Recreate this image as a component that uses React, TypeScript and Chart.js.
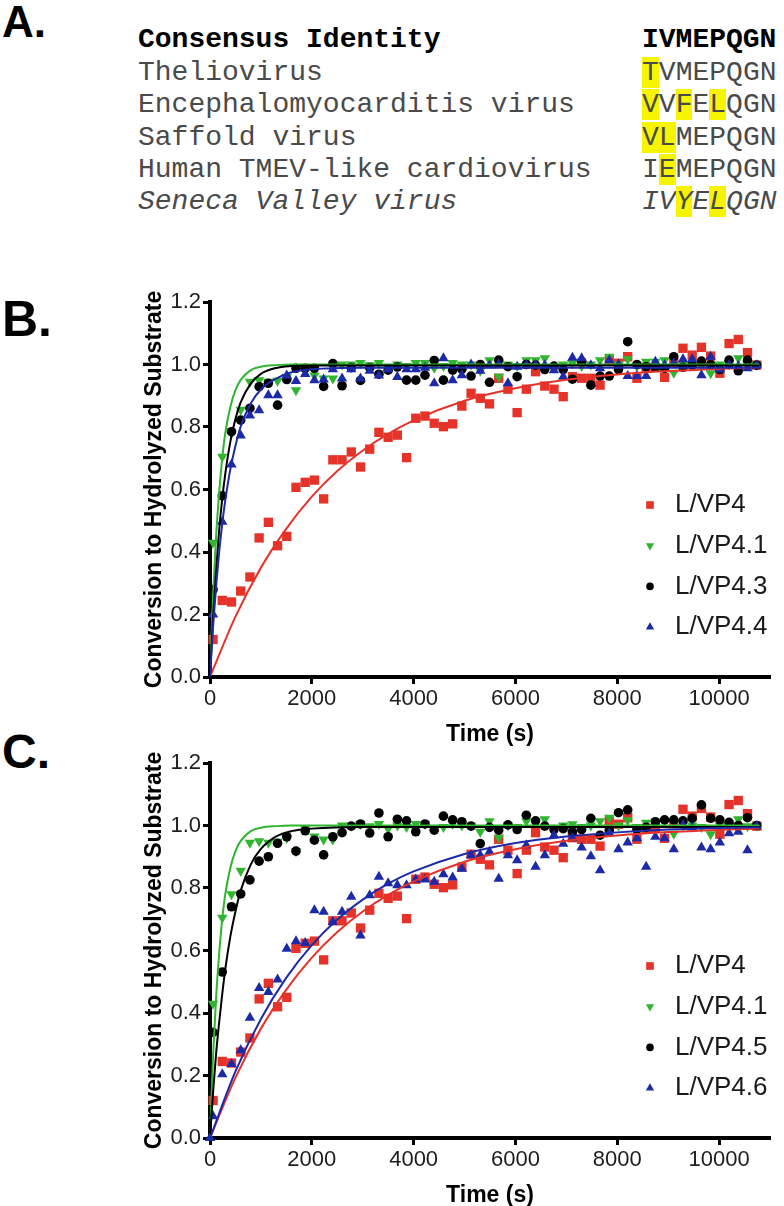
import React, { useEffect, useRef } from "react";
import { Chart, registerables } from "chart.js";
import { drawPoint } from "chart.js/helpers";

Chart.register(...registerables);

// ---------------- Panel A: alignment ----------------
const consensusName = "Consensus Identity";
const consensusSeq = "IVMEPQGN";
const virusNames = [
  "Theliovirus",
  "Encephalomyocarditis virus",
  "Saffold virus",
  "Human TMEV-like cardiovirus",
  "Seneca Valley virus",
];
const virusSeqs = ["TVMEPQGN", "VVFELQGN", "VLMEPQGN", "IEMEPQGN", "IVYELQGN"];
const highlightedPositions = [[0], [0, 2, 4], [0, 1], [1], [2, 4]];
const italicRows = [false, false, false, false, true];

// ---------------- Panels B & C: kinetics ----------------
const xTickLabels = [0, 2000, 4000, 6000, 8000, 10000];
const yTickLabels = [0, 0.2, 0.4, 0.6, 0.8, 1.0, 1.2];

const timeS = [
  60, 241, 422, 603, 784, 965, 1146, 1327, 1508, 1689,
  1870, 2051, 2232, 2413, 2594, 2775, 2956, 3137, 3318, 3499,
  3680, 3861, 4042, 4223, 4404, 4585, 4766, 4947, 5128, 5309,
  5490, 5671, 5852, 6033, 6214, 6395, 6576, 6757, 6938, 7119,
  7300, 7481, 7662, 7843, 8024, 8205, 8386, 8567, 8748, 8929,
  9110, 9291, 9472, 9653, 9834, 10015, 10196, 10377, 10558, 10739,
];
const timeWithZero = [
  0, 60, 241, 422, 603, 784, 965, 1146, 1327, 1508, 1689,
  1870, 2051, 2232, 2413, 2594, 2775, 2956, 3137, 3318, 3499,
  3680, 3861, 4042, 4223, 4404, 4585, 4766, 4947, 5128, 5309,
  5490, 5671, 5852, 6033, 6214, 6395, 6576, 6757, 6938, 7119,
  7300, 7481, 7662, 7843, 8024, 8205, 8386, 8567, 8748, 8929,
  9110, 9291, 9472, 9653, 9834, 10015, 10196, 10377, 10558, 10739,
];

const lvp4 = [
  0.12, 0.245, 0.24, 0.275, 0.32, 0.445, 0.495, 0.42, 0.45, 0.607,
  0.623, 0.63, 0.57, 0.695, 0.695, 0.72, 0.672, 0.729, 0.783, 0.767,
  0.774, 0.702, 0.828, 0.835, 0.812, 0.801, 0.81, 0.867, 0.908, 0.892,
  0.874, 0.956, 0.921, 0.846, 0.921, 0.977, 0.931, 0.921, 0.897, 0.961,
  0.956, 0.956, 0.934, 1.014, 1.004, 1.025, 0.956, 0.991, 0.991, 0.959,
  1.006, 1.052, 1.03, 1.055, 1.027, 0.972, 1.067, 1.08, 1.038, 0.998,
];
const lvp41 = [
  0.43, 0.705, 0.78, 0.855, 0.945, 0.95, 0.945, 0.948, 0.96, 0.918,
  0.99, 0.965, 0.955, 0.955, 1.0, 1.0, 1.005, 0.998, 1.005, 0.99,
  1.0, 0.995, 1.005, 1.005, 0.99, 0.995, 1.005, 1.0, 1.0, 0.98,
  1.014, 0.961, 1.0, 0.995, 1.014, 1.014, 1.02, 0.99, 1.0, 1.004,
  0.995, 1.0, 1.014, 1.025, 1.0, 1.017, 0.995, 1.009, 1.009, 1.014,
  0.974, 1.0, 1.0, 0.995, 0.972, 1.0, 1.0, 1.02, 0.998, 1.0,
];
const lvp43 = [
  0.28, 0.58, 0.785, 0.822, 0.86, 0.929, 0.94, 0.87, 0.952, 0.988,
  0.988, 0.988, 0.93, 1.003, 0.932, 0.99, 0.949, 0.99, 0.969, 0.982,
  0.992, 0.95, 0.95, 0.966, 1.013, 0.95, 0.982, 0.985, 0.963, 1.0,
  0.943, 1.014, 0.993, 0.961, 1.0, 0.998, 0.984, 0.995, 0.984, 0.953,
  1.009, 0.934, 0.963, 0.963, 0.984, 1.073, 1.0, 0.993, 0.991, 0.988,
  1.025, 0.991, 0.998, 1.011, 1.0, 0.984, 1.014, 0.98, 1.014, 0.998,
];
const lvp44 = [
  0.2, 0.497, 0.68, 0.773, 0.837, 0.854, 0.902, 0.902, 0.965, 0.947,
  0.97, 0.95, 0.952, 0.985, 0.955, 0.985, 0.955, 0.98, 0.965, 0.985,
  0.96, 0.985, 0.985, 0.99, 0.94, 1.02, 0.95, 0.966, 1.0, 0.98,
  0.998, 1.0, 0.94, 0.993, 0.998, 0.998, 0.998, 0.982, 0.961, 1.022,
  1.02, 0.998, 0.988, 1.014, 1.0, 0.963, 0.963, 0.963, 1.009, 0.998,
  1.004, 1.017, 1.017, 0.966, 1.025, 0.984, 0.998, 0.995, 0.988, 0.998,
];
const lvp45 = [
  0.338, 0.531, 0.74, 0.781, 0.826, 0.886, 0.9, 0.943, 0.964, 0.918,
  0.983, 0.953, 0.906, 0.964, 0.977, 0.998, 1.005, 0.976, 1.04, 0.964,
  1.02, 1.015, 0.98, 1.005, 0.985, 1.03, 1.018, 1.012, 0.998, 0.942,
  0.994, 0.985, 1.002, 0.987, 1.033, 1.015, 0.998, 0.987, 0.99, 0.98,
  0.987, 1.023, 0.969, 0.985, 1.041, 1.05, 0.987, 0.994, 1.012, 1.018,
  1.018, 1.015, 1.023, 1.066, 1.023, 1.018, 1.01, 1.0, 1.025, 1.0,
];
const lvp46 = [
  0,
  0.07, 0.204, 0.237, 0.281, 0.385, 0.48, 0.467, 0.507, 0.606, 0.63,
  0.624, 0.729, 0.724, 0.691, 0.724, 0.772, 0.648, 0.777, 0.836, 0.815,
  0.809, 0.809, 0.827, 0.827, 0.82, 0.844, 0.834, 0.862, 0.905, 0.905,
  0.916, 0.83, 0.905, 0.889, 0.937, 0.868, 0.905, 0.969, 0.942, 0.959,
  0.93, 0.902, 0.857, 0.975, 0.924, 0.946, 0.959, 0.868, 0.964, 0.959,
  0.924, 1.002, 0.994, 0.93, 0.924, 0.946, 0.975, 0.98, 0.921, 0.998,
];

// fitted curves
const fitTimeFast = [0, 60, 120, 180, 240, 300, 400, 500, 600, 800, 1000, 1300, 1600, 2000, 3000, 10790];
const fit41 = [0, 0.26, 0.45, 0.59, 0.7, 0.78, 0.865, 0.918, 0.95, 0.982, 0.993, 0.998, 1.0, 1.0, 1.0, 1.0];
const fit43 = [0, 0.19, 0.34, 0.47, 0.57, 0.65, 0.753, 0.826, 0.878, 0.939, 0.97, 0.989, 0.995, 0.997, 0.997, 0.997];
const fit44 = [0, 0.16, 0.29, 0.4, 0.49, 0.565, 0.665, 0.74, 0.8, 0.875, 0.92, 0.955, 0.975, 0.985, 0.99, 0.99];
const fit45 = [0, 0.145, 0.27, 0.37, 0.46, 0.54, 0.645, 0.725, 0.79, 0.875, 0.925, 0.965, 0.982, 0.99, 0.995, 0.995];
const fitTimeSlow = [0, 500, 1000, 1500, 2000, 2500, 3000, 3500, 4000, 5000, 6000, 7000, 8000, 9000, 10000, 10790];
const fit4 = [0, 0.193, 0.35, 0.475, 0.577, 0.659, 0.725, 0.778, 0.821, 0.884, 0.924, 0.951, 0.968, 0.979, 0.986, 0.99];
const fit46 = [0, 0.213, 0.381, 0.513, 0.617, 0.699, 0.763, 0.814, 0.853, 0.909, 0.944, 0.965, 0.978, 0.987, 0.992, 0.994];

// ---------------- styles ----------------
const SANS = "'Liberation Sans', Arial, Helvetica, sans-serif";
const MONO = "'Liberation Mono', 'Courier New', monospace";
const RED = "#e5332a";
const GREEN = "#30b530";
const BLACK = "#000000";
const BLUE = "#1c2aa8";
const TICK_COLOR = "#1e1e1e";

type Series = {
  label: string;
  times: number[];
  values: number[];
  fitT: number[];
  fitY: number[];
  color: string;
  pointStyle: string;
  rotation: number;
  radius: number;
  legendRadius: number;
};

const panelB: Series[] = [
  { label: "L/VP4", times: timeS, values: lvp4, fitT: fitTimeSlow, fitY: fit4, color: RED, pointStyle: "rect", rotation: 0, radius: 6.6, legendRadius: 5.4 },
  { label: "L/VP4.1", times: timeS, values: lvp41, fitT: fitTimeFast, fitY: fit41, color: GREEN, pointStyle: "triangle", rotation: 180, radius: 6, legendRadius: 4.8 },
  { label: "L/VP4.3", times: timeS, values: lvp43, fitT: fitTimeFast, fitY: fit43, color: BLACK, pointStyle: "circle", rotation: 0, radius: 4.8, legendRadius: 3.8 },
  { label: "L/VP4.4", times: timeS, values: lvp44, fitT: fitTimeFast, fitY: fit44, color: BLUE, pointStyle: "triangle", rotation: 0, radius: 6, legendRadius: 4.8 },
];
const panelC: Series[] = [
  { label: "L/VP4", times: timeS, values: lvp4, fitT: fitTimeSlow, fitY: fit4, color: RED, pointStyle: "rect", rotation: 0, radius: 6.6, legendRadius: 5.4 },
  { label: "L/VP4.1", times: timeS, values: lvp41, fitT: fitTimeFast, fitY: fit41, color: GREEN, pointStyle: "triangle", rotation: 180, radius: 6, legendRadius: 4.8 },
  { label: "L/VP4.5", times: timeS, values: lvp45, fitT: fitTimeFast, fitY: fit45, color: BLACK, pointStyle: "circle", rotation: 0, radius: 4.8, legendRadius: 3.8 },
  { label: "L/VP4.6", times: timeWithZero, values: lvp46, fitT: fitTimeSlow, fitY: fit46, color: BLUE, pointStyle: "triangle", rotation: 0, radius: 6, legendRadius: 4.8 },
];

const insideLegend = {
  id: "insideLegend",
  afterDraw(chart: any, _args: any, opts: any) {
    const { ctx, chartArea } = chart;
    const items = chart.data.datasets.filter((d: any) => d.legendRadius);
    ctx.save();
    items.forEach((d: any, i: number) => {
      const y = chartArea.bottom - opts.firstOffset + i * opts.step;
      const mx = chartArea.right - opts.markerFromRight;
      ctx.fillStyle = d.pointBackgroundColor;
      ctx.strokeStyle = d.pointBackgroundColor;
      drawPoint(ctx, { pointStyle: d.pointStyle, rotation: d.pointRotation, radius: d.legendRadius, borderWidth: 0 } as any, mx, y);
      ctx.fillStyle = opts.color;
      ctx.font = opts.font;
      ctx.textAlign = "left";
      ctx.textBaseline = "middle";
      ctx.fillText(d.label, chartArea.right - opts.textFromRight, y);
    });
    ctx.restore();
  },
};

function buildConfig(series: Series[]): any {
  const n = series.length;
  const pointSets = series.map((s, i) => ({
    type: "scatter",
    label: s.label,
    data: s.times.map((t, k) => ({ x: t, y: s.values[k] })),
    pointStyle: s.pointStyle,
    pointRotation: s.rotation,
    pointRadius: s.radius,
    pointBackgroundColor: s.color,
    pointBorderColor: s.color,
    pointBorderWidth: 0,
    showLine: false,
    clip: false,
    legendRadius: s.legendRadius,
    order: 20 - i,
  }));
  const fitSets = series.map((s, i) => ({
    type: "line",
    label: s.label + " fit",
    data: s.fitT.map((t, k) => ({ x: t, y: s.fitY[k] })),
    borderColor: s.color,
    borderWidth: 2,
    pointRadius: 0,
    fill: false,
    cubicInterpolationMode: "monotone",
    order: n - i,
  }));
  const axisCommon = {
    grid: {
      display: true,
      drawOnChartArea: false,
      drawTicks: true,
      tickLength: 7,
      tickWidth: 3,
      tickColor: "#000",
      color: "#000",
    },
    border: { display: true, width: 4, color: "#000" },
  };
  return {
    type: "scatter",
    data: { datasets: [...pointSets, ...fitSets] },
    options: {
      animation: false,
      responsive: false,
      events: [],
      layout: { padding: { top: 32, right: 14, left: 0, bottom: 0 } },
      plugins: {
        legend: { display: false },
        tooltip: { enabled: false },
        insideLegend: {
          firstOffset: 172,
          step: 40.7,
          markerFromRight: 120,
          textFromRight: 95,
          font: `26px ${SANS}`,
          color: "#1a1a1a",
        },
      },
      scales: {
        x: {
          type: "linear",
          min: xTickLabels[0],
          max: 11000,
          afterFit: (s: any) => {
            s.height = 73;
          },
          afterBuildTicks: (s: any) => {
            s.ticks = xTickLabels.map((v) => ({ value: v }));
          },
          ticks: {
            autoSkip: false,
            maxRotation: 0,
            padding: 2,
            color: TICK_COLOR,
            font: { family: SANS, size: 22 },
            callback: (v: any) => String(v),
          },
          ...axisCommon,
          title: {
            display: true,
            text: "Time (s)",
            color: "#000",
            font: { family: SANS, size: 23, weight: "bold" },
            padding: { top: 0, bottom: 2 },
          },
        },
        y: {
          type: "linear",
          min: yTickLabels[0],
          max: yTickLabels[yTickLabels.length - 1],
          afterFit: (s: any) => {
            s.width = 90;
          },
          afterBuildTicks: (s: any) => {
            s.ticks = yTickLabels.map((v) => ({ value: v }));
          },
          ticks: {
            autoSkip: false,
            padding: 2,
            color: TICK_COLOR,
            font: { family: SANS, size: 22 },
            callback: (v: any) => Number(v).toFixed(1),
          },
          ...axisCommon,
          title: {
            display: true,
            text: "Conversion to Hydrolyzed Substrate",
            color: "#000",
            font: { family: SANS, size: 23, weight: "bold" },
            padding: { top: 21, bottom: 0 },
          },
        },
      },
    },
    plugins: [insideLegend],
  };
}

function KineticPlot({ series, top }: { series: Series[]; top: number }) {
  const ref = useRef<HTMLCanvasElement>(null);
  useEffect(() => {
    const chart = new Chart(ref.current as HTMLCanvasElement, buildConfig(series));
    return () => chart.destroy();
  }, [series]);
  return (
    <div style={{ position: "absolute", left: 120, top, width: 664, height: 480 }}>
      <canvas ref={ref} width={664} height={480} style={{ width: 664, height: 480, display: "block" }} />
    </div>
  );
}

function PanelLabel({ text, top, size }: { text: string; top: number; size: number }) {
  return (
    <div
      style={{
        position: "absolute",
        left: 2,
        top,
        fontFamily: SANS,
        fontWeight: "bold",
        fontSize: size,
        lineHeight: 1,
        color: "#000",
      }}
    >
      {text}
    </div>
  );
}

const rowBaselines = [48, 80.4, 112.8, 145.2, 177.6, 210];

function SeqText({ seq, marks }: { seq: string; marks: number[] }) {
  return (
    <>
      {seq.split("").map((ch, i) => (
        <span key={i} style={marks.includes(i) ? { background: "#f7f400" } : undefined}>
          {ch}
        </span>
      ))}
    </>
  );
}

function Alignment() {
  const rowStyle = (k: number, bold: boolean, italic: boolean, color: string): React.CSSProperties => ({
    position: "absolute",
    top: rowBaselines[k] - 23.66,
    height: 32.4,
    lineHeight: "32.4px",
    fontFamily: MONO,
    fontSize: 28,
    fontWeight: bold ? "bold" : "normal",
    fontStyle: italic ? "italic" : "normal",
    color,
    whiteSpace: "pre",
  });
  return (
    <>
      <div style={{ ...rowStyle(0, true, false, "#000"), left: 138 }}>{consensusName}</div>
      <div style={{ ...rowStyle(0, true, false, "#000"), left: 642 }}>{consensusSeq}</div>
      {virusNames.map((name, i) => (
        <React.Fragment key={name}>
          <div style={{ ...rowStyle(i + 1, false, italicRows[i], "#4a4a4a"), left: 138 }}>{name}</div>
          <div style={{ ...rowStyle(i + 1, false, italicRows[i], "#4a4a4a"), left: 642 }}>
            <SeqText seq={virusSeqs[i]} marks={highlightedPositions[i]} />
          </div>
        </React.Fragment>
      ))}
    </>
  );
}

export default function App() {
  return (
    <div
      style={{
        position: "absolute",
        left: 0,
        top: 0,
        width: 784,
        height: 1206,
        overflow: "hidden",
        background: "#fff",
      }}
    >
      <PanelLabel text="A." top={0} size={44} />
      <Alignment />
      <PanelLabel text="B." top={294} size={50} />
      <KineticPlot series={panelB} top={270} />
      <PanelLabel text="C." top={728} size={48} />
      <KineticPlot series={panelC} top={731} />
    </div>
  );
}
